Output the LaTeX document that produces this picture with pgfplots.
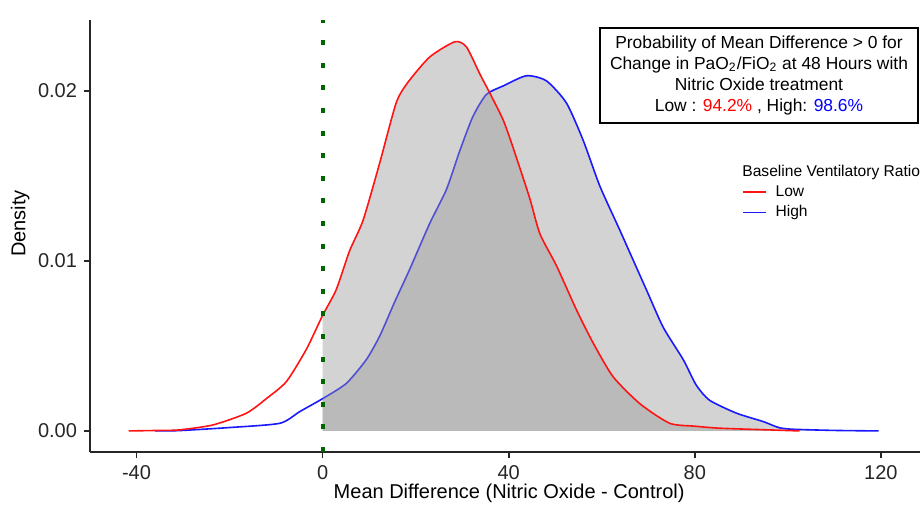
\documentclass[border=0pt]{standalone}
\usepackage{fontspec}
\setmainfont{Liberation Sans}
\usepackage{pgfplots}
\pgfplotsset{compat=1.18}
\usepackage{pgfplotstable}
\usetikzlibrary{calc}

\definecolor{lowred}{RGB}{255,20,20}
\definecolor{highblue}{RGB}{25,25,255}
\definecolor{dgreen}{RGB}{0,100,0}
\definecolor{shade}{RGB}{153,153,153}

% posterior density, Low baseline ventilatory ratio
\pgfplotstableread{
x y
-41.7 0
-35 0.00003
-30.8 0.00006
-23.6 0.00035
-16.4 0.00104
-12.1 0.0019
-7.8 0.0029
-3.5 0.0048
0 0.0068
2.9 0.0083
5.8 0.0106
8.7 0.0124
12.3 0.0158
15.8 0.0193
18.3 0.0205
23.0 0.0220
28.4 0.0229
30.9 0.0226
33.8 0.0210
35.9 0.0199
38.8 0.0183
40.9 0.0167
44.5 0.0137
46.7 0.0116
50.3 0.0097
54.6 0.0071
58.1 0.0052
62.4 0.0032
68.2 0.0016
74.6 0.00045
80 0.00028
85.4 0.00016
96.1 0.00006
102.5 0
}\lowtbl

% posterior density, High baseline ventilatory ratio
\pgfplotstableread{
x y
-36 0
-30.8 0.00002
-20 0.0002
-9.2 0.00045
-4.9 0.00114
0 0.0019
5.1 0.0028
9.4 0.0042
12.3 0.0056
15.5 0.0076
18.7 0.0095
23.0 0.0122
26.6 0.0142
29.5 0.0165
32.3 0.0185
35.2 0.0198
38.8 0.0203
43.8 0.0209
48.1 0.0206
52.4 0.0193
56.0 0.0171
59.6 0.0144
63.9 0.0118
69.6 0.0083
73.2 0.0061
77.5 0.0042
80.3 0.0027
83.2 0.0018
89.0 0.00104
94.7 0.00055
98 0.0002
101 0.0001
110 0.00003
119.5 0
}\hightbl

\begin{document}
\begin{tikzpicture}
\begin{axis}[
    name=ax, scale only axis, width=415pt, height=216pt,
    xmin=-50, xmax=128.4, ymin=-0.00124, ymax=0.02418,
    axis x line*=bottom, axis y line*=left,
    axis line style={line width=0.9pt, black!85},
    tick style={line width=0.8pt, black!85},
    tick align=outside, major tick length=3pt,
    xtick={-40,0,40,80,120}, xticklabels={-40,0,40,80,120},
    ytick={0,0.01,0.02}, yticklabels={0.00,0.01,0.02},
    scaled y ticks=false,
    ticklabel style={font=\fontsize{10}{12}\selectfont, text=black!85},
    xlabel={Mean Difference (Nitric Oxide - Control)},
    ylabel={Density},
    label style={font=\fontsize{10}{12}\selectfont},
    xlabel style={at={(axis description cs:0.505,-0.095)}, anchor=center},
    ylabel style={at={(axis description cs:-0.084,0.529)}, anchor=center},
    legend style={at={(axis description cs:0.7855,0.625)}, anchor=north west,
      draw=none, fill=none, inner sep=0pt, font=\fontsize{7.8}{9}\selectfont,
      row sep=0.6pt, nodes={inner sep=1.2pt, text height=5.6pt, text depth=1.6pt},
      /tikz/every odd column/.append style={column sep=3pt}},
    legend cell align=left,
    legend image code/.code={\draw[line width=0.9pt, #1] (0pt,0pt) -- (11.5pt,0pt);},
  ]
  \addplot[fill=shade, fill opacity=0.43, draw=none, smooth, tension=0.4,
    restrict x to domain=0:200, forget plot] table {\hightbl} \closedcycle;
  \addplot[highblue, line width=0.8pt, smooth, tension=0.4, forget plot] table {\hightbl};
  \addplot[fill=shade, fill opacity=0.43, draw=none, smooth, tension=0.4,
    restrict x to domain=0:200, forget plot] table {\lowtbl} \closedcycle;
  \addplot[lowred, line width=0.8pt, smooth, tension=0.4, forget plot] table {\lowtbl};
  \addplot[dgreen, line width=2pt, dash pattern=on 2.5pt off 8.8pt, forget plot]
    coordinates {(0,-0.00124) (0,0.02418)};

  \addlegendimage{draw=lowred, color=lowred}
  \addlegendentry{Low}
  \addlegendimage{draw=highblue, color=highblue}
  \addlegendentry{High}

  \node[anchor=west, inner sep=0pt, font=\fontsize{7.8}{9}\selectfont]
    at (axis description cs:0.7855,0.648) {Baseline Ventilatory Ratio};
  \node[draw, line width=0.8pt, fill=white, align=center, inner sep=0pt,
    minimum width=159pt, minimum height=47.5pt,
    font=\fontsize{8.7}{10.5}\selectfont]
    at (axis description cs:0.806,0.8715)
    {Probability of Mean Difference > 0 for\\
     Change in PaO\textsubscript{2}/FiO\textsubscript{2} at 48 Hours with\\
     Nitric Oxide treatment\\
     Low : \textcolor{red}{94.2\%} , High: \textcolor{blue}{98.6\%}};
\end{axis}
\pgfresetboundingbox
\path[use as bounding box] ($(ax.south west)+(-45pt,-26pt)$) rectangle ($(ax.north east)+(0pt,10pt)$);
\end{tikzpicture}
\end{document}
